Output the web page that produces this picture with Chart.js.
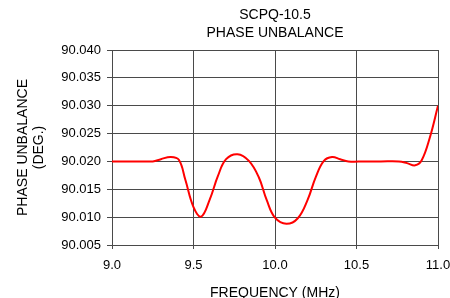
<!DOCTYPE html>
<html>
<head>
<meta charset="utf-8">
<script src="https://cdn.jsdelivr.net/npm/chart.js@4/dist/chart.umd.min.js"></script>
<style>
html,body{margin:0;padding:0;background:#fff;}
#wrap{width:450px;height:298px;position:relative;}
</style>
</head>
<body>
<div id="wrap"><canvas id="c" width="450" height="298"></canvas></div>
<script>
const chartTitle = ["SCPQ-10.5", "PHASE UNBALANCE"];
const xTitle = "FREQUENCY (MHz)";
const yTitle = ["PHASE UNBALANCE", "(DEG.)"];
const freq = [9.00, 9.10, 9.20, 9.25, 9.30, 9.36, 9.41, 9.45, 9.50, 9.547, 9.60, 9.65, 9.70, 9.77, 9.84, 9.90, 9.95, 10.00, 10.07, 10.14, 10.20, 10.25, 10.30, 10.35, 10.40, 10.45, 10.55, 10.65, 10.76, 10.81, 10.86, 10.90, 10.95, 11.00];
const phase = [90.0200, 90.0200, 90.0200, 90.0200, 90.0204, 90.0208, 90.0203, 90.0167, 90.0118, 90.0101, 90.0132, 90.0174, 90.0204, 90.0213, 90.0201, 90.0172, 90.0130, 90.0099, 90.0088, 90.0098, 90.0131, 90.0172, 90.0201, 90.0208, 90.0204, 90.0200, 90.0200, 90.0200, 90.0200, 90.0197, 90.0193, 90.0202, 90.0243, 90.0300];
const xTicks = [9.0, 9.5, 10.0, 10.5, 11.0];
const yMin = 90.005, yMax = 90.040, yStep = 0.005;

const points = freq.map((f, i) => ({x: f, y: phase[i]}));

const titlePlugin = {
  id: 'centerTitle',
  afterDraw(chart) {
    const {ctx, chartArea} = chart;
    ctx.save();
    ctx.fillStyle = '#000';
    ctx.font = '14px "Liberation Sans", Arial, sans-serif';
    ctx.textAlign = 'center';
    ctx.textBaseline = 'middle';
    const cx = (chartArea.left + chartArea.right) / 2;
    ctx.fillText(chartTitle[0], cx, 15);
    ctx.fillText(chartTitle[1], cx, 33);
    ctx.restore();
  }
};

new Chart(document.getElementById('c'), {
  type: 'scatter',
  data: {
    datasets: [{
      data: points,
      showLine: true,
      borderColor: '#ff0000',
      borderWidth: 2,
      pointRadius: 0,
      tension: 0.4,
      fill: false
    }]
  },
  options: {
    responsive: false,
    animation: false,
    devicePixelRatio: 1,
    layout: {padding: {top: 50, right: 12, bottom: 0, left: 0}},
    plugins: {legend: {display: false}, tooltip: {enabled: false}, title: {display: false}},
    scales: {
      x: {
        type: 'linear',
        min: 9.0, max: 11.0,
        afterBuildTicks(scale) { scale.ticks = xTicks.map(v => ({value: v})); },
        afterFit(scale) { scale.height = 53; scale.paddingLeft = 0; scale.paddingRight = 0; },
        ticks: {
          color: '#000',
          font: {family: '"Liberation Sans", Arial, sans-serif', size: 13},
          padding: 9,
          maxRotation: 0,
          autoSkip: false,
          callback: v => Number(v).toFixed(1)
        },
        grid: {color: '#4a4a4a', lineWidth: 1, tickLength: 4, drawTicks: true},
        border: {color: '#4a4a4a', width: 1},
        title: {
          display: true, text: xTitle, color: '#000',
          font: {family: '"Liberation Sans", Arial, sans-serif', size: 14, lineHeight: 1.15},
          padding: {top: 0, bottom: -3}
        }
      },
      y: {
        min: yMin, max: yMax,
        afterBuildTicks(scale) {
          const t = [];
          for (let v = yMin; v <= yMax + 1e-9; v += yStep) t.push({value: +v.toFixed(3)});
          scale.ticks = t;
        },
        afterFit(scale) { scale.width = 112; scale.paddingTop = 0; scale.paddingBottom = 0; },
        ticks: {
          color: '#000',
          font: {family: '"Liberation Sans", Arial, sans-serif', size: 13},
          padding: 6,
          callback: v => Number(v).toFixed(3)
        },
        grid: {color: '#4a4a4a', lineWidth: 1, tickLength: 5, drawTicks: true},
        border: {color: '#4a4a4a', width: 1},
        title: {
          display: true, text: yTitle, color: '#000',
          font: {family: '"Liberation Sans", Arial, sans-serif', size: 14, lineHeight: 1.15},
          padding: {top: 15, bottom: 0}
        }
      }
    }
  },
  plugins: [titlePlugin]
});
</script>
</body>
</html>
